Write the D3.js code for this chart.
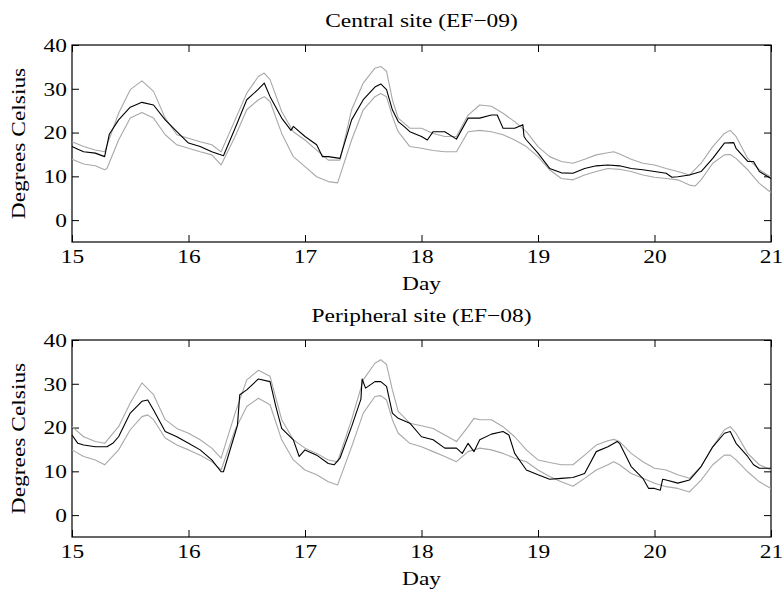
<!DOCTYPE html>
<html><head><meta charset="utf-8">
<script src="https://cdn.jsdelivr.net/npm/d3@7"></script>
<style>body{margin:0;background:#fff}svg{display:block}</style>
</head><body><div id="chart"></div>
<script>
// ---- data (day, °C) ----
const titles = ["Central site (EF\u221209)", "Peripheral site (EF\u221208)"];
const xTicks = [15, 16, 17, 18, 19, 20, 21];
const yTicks = [0, 10, 20, 30, 40];

const centralMean = [[15.0,16.8],[15.05,16.2],[15.1,15.6],[15.2,15.3],[15.28,14.5],[15.32,19.6],[15.4,22.9],[15.5,25.8],[15.6,26.9],[15.7,26.3],[15.8,22.9],[15.9,20.2],[16.0,17.6],[16.1,16.8],[16.2,15.6],[16.3,14.7],[16.4,21.0],[16.5,27.5],[16.6,29.9],[16.65,31.3],[16.7,28.2],[16.8,23.3],[16.88,20.5],[16.9,21.4],[17.0,19.1],[17.1,17.2],[17.15,14.5],[17.2,14.5],[17.3,14.1],[17.4,22.9],[17.5,27.5],[17.6,30.4],[17.65,31.1],[17.7,29.8],[17.75,25.2],[17.8,22.5],[17.85,21.4],[17.9,20.2],[18.0,19.1],[18.05,18.3],[18.1,20.2],[18.2,20.2],[18.3,18.5],[18.4,23.3],[18.5,23.3],[18.6,24.0],[18.65,24.0],[18.7,21.0],[18.8,21.0],[18.87,21.8],[18.88,19.1],[18.9,18.3],[19.0,15.3],[19.1,11.8],[19.2,10.8],[19.3,10.7],[19.4,11.8],[19.5,12.4],[19.6,12.6],[19.7,12.4],[19.8,11.8],[19.9,11.5],[20.0,11.1],[20.1,10.7],[20.15,9.8],[20.2,9.9],[20.3,10.3],[20.4,11.1],[20.5,14.1],[20.6,17.6],[20.68,17.7],[20.7,16.4],[20.8,13.4],[20.85,13.4],[20.9,11.1],[21.0,9.5]];
const centralMax = [[15.0,17.9],[15.1,16.8],[15.2,16.0],[15.28,15.6],[15.4,24.4],[15.5,29.8],[15.6,31.8],[15.7,29.4],[15.8,23.3],[15.9,19.5],[16.0,18.7],[16.1,17.9],[16.2,17.2],[16.28,15.6],[16.4,22.9],[16.5,29.0],[16.6,32.8],[16.65,33.6],[16.7,32.1],[16.8,24.8],[16.9,20.2],[17.0,18.3],[17.1,16.0],[17.2,13.7],[17.3,13.7],[17.4,25.2],[17.5,31.3],[17.6,34.7],[17.65,35.1],[17.7,34.0],[17.75,27.5],[17.8,23.3],[17.9,21.0],[18.0,21.0],[18.1,19.8],[18.2,19.1],[18.3,19.1],[18.4,24.0],[18.5,26.3],[18.6,26.0],[18.7,24.4],[18.8,22.5],[18.9,20.2],[19.0,16.8],[19.1,14.5],[19.2,13.4],[19.3,13.0],[19.4,13.9],[19.5,14.9],[19.6,15.4],[19.65,15.6],[19.7,15.1],[19.8,13.9],[19.9,13.0],[20.0,12.6],[20.1,11.8],[20.2,11.1],[20.3,10.3],[20.4,13.0],[20.5,16.8],[20.6,19.8],[20.65,20.5],[20.7,19.1],[20.8,14.1],[20.9,11.5],[21.0,9.8]];
const centralMin = [[15.0,13.9],[15.1,12.8],[15.2,12.4],[15.28,11.5],[15.3,11.8],[15.4,18.3],[15.5,23.3],[15.6,24.6],[15.7,23.3],[15.8,19.5],[15.9,17.2],[16.0,16.4],[16.1,15.6],[16.2,14.9],[16.28,12.6],[16.4,19.1],[16.5,25.2],[16.6,27.5],[16.65,28.2],[16.7,27.1],[16.8,19.8],[16.9,14.5],[17.0,12.2],[17.1,9.9],[17.2,8.8],[17.28,8.5],[17.4,18.3],[17.5,25.2],[17.6,28.2],[17.65,28.9],[17.7,28.2],[17.75,23.7],[17.8,20.2],[17.9,16.8],[18.0,16.4],[18.1,15.9],[18.2,15.6],[18.3,15.6],[18.4,20.2],[18.5,20.5],[18.6,20.2],[18.7,19.5],[18.8,18.3],[18.9,16.8],[19.0,14.5],[19.1,11.5],[19.2,9.5],[19.3,9.2],[19.4,10.3],[19.5,11.1],[19.6,11.8],[19.7,11.6],[19.8,11.1],[19.9,10.3],[20.0,9.8],[20.1,9.5],[20.2,9.2],[20.3,8.0],[20.35,7.8],[20.4,9.2],[20.5,13.0],[20.6,14.9],[20.65,15.0],[20.7,14.1],[20.8,11.5],[20.9,8.4],[21.0,6.3]];

const periphMean = [[15.0,18.3],[15.05,16.4],[15.1,16.0],[15.2,15.6],[15.3,15.6],[15.35,16.4],[15.4,17.9],[15.5,23.3],[15.6,26.0],[15.65,26.3],[15.7,24.0],[15.8,19.1],[15.9,17.9],[16.0,16.4],[16.1,14.9],[16.2,12.6],[16.28,9.9],[16.3,9.9],[16.4,18.7],[16.42,20.5],[16.44,27.5],[16.5,28.6],[16.6,31.1],[16.7,30.5],[16.75,24.8],[16.8,19.8],[16.9,17.2],[16.95,13.4],[17.0,14.9],[17.1,13.7],[17.2,11.8],[17.25,11.5],[17.3,13.0],[17.4,20.2],[17.48,26.5],[17.49,31.1],[17.52,29.0],[17.6,30.5],[17.65,30.5],[17.7,29.4],[17.75,23.3],[17.8,22.1],[17.9,21.0],[18.0,17.9],[18.1,17.2],[18.2,15.3],[18.3,15.3],[18.35,14.1],[18.4,16.4],[18.45,14.5],[18.5,17.2],[18.6,18.5],[18.7,19.1],[18.75,18.3],[18.8,14.1],[18.9,10.3],[19.0,9.2],[19.1,8.2],[19.2,8.4],[19.3,8.6],[19.4,9.5],[19.5,14.5],[19.6,15.6],[19.68,16.8],[19.7,16.4],[19.8,11.1],[19.9,8.4],[19.95,6.1],[20.0,6.1],[20.05,5.7],[20.07,8.2],[20.1,8.0],[20.2,7.3],[20.3,8.0],[20.4,11.1],[20.5,15.6],[20.6,18.7],[20.65,19.1],[20.7,16.4],[20.8,13.4],[20.85,11.5],[20.9,10.7],[21.0,10.7]];
const periphMax = [[15.0,20.2],[15.1,17.9],[15.2,16.8],[15.28,16.4],[15.4,20.2],[15.5,25.6],[15.6,30.2],[15.7,27.5],[15.8,21.8],[15.9,19.8],[16.0,18.7],[16.1,17.2],[16.2,15.3],[16.28,13.0],[16.4,23.3],[16.5,30.9],[16.6,33.1],[16.7,31.7],[16.8,21.8],[16.9,17.2],[17.0,15.3],[17.1,14.1],[17.2,12.6],[17.28,12.2],[17.4,21.8],[17.5,30.9],[17.6,34.7],[17.65,35.5],[17.7,34.4],[17.75,28.6],[17.8,23.7],[17.9,21.0],[18.0,20.4],[18.1,19.8],[18.2,18.3],[18.3,16.8],[18.4,20.2],[18.45,22.1],[18.5,21.8],[18.6,21.8],[18.7,20.2],[18.8,17.9],[18.9,14.9],[19.0,12.6],[19.1,12.0],[19.2,11.5],[19.3,11.5],[19.4,13.7],[19.5,16.0],[19.6,17.0],[19.65,17.3],[19.7,16.8],[19.8,14.1],[19.9,12.2],[20.0,10.7],[20.1,10.3],[20.2,9.2],[20.3,8.4],[20.4,11.1],[20.5,15.6],[20.6,19.5],[20.65,20.2],[20.7,18.7],[20.8,14.1],[20.9,11.5],[21.0,10.3]];
const periphMin = [[15.0,14.9],[15.1,13.4],[15.2,12.6],[15.28,11.5],[15.4,14.9],[15.5,19.5],[15.6,22.5],[15.65,22.9],[15.7,21.8],[15.8,17.6],[15.9,16.0],[16.0,14.9],[16.1,13.7],[16.2,12.2],[16.28,10.3],[16.4,19.5],[16.5,24.8],[16.6,26.7],[16.7,25.2],[16.8,17.2],[16.9,12.6],[17.0,10.3],[17.1,9.2],[17.2,7.6],[17.28,6.9],[17.4,15.6],[17.5,23.3],[17.6,27.1],[17.65,27.3],[17.7,26.3],[17.75,21.8],[17.8,18.7],[17.9,16.4],[18.0,15.6],[18.1,14.5],[18.2,13.4],[18.3,12.2],[18.4,14.5],[18.5,15.3],[18.6,14.9],[18.7,14.1],[18.8,13.0],[18.9,12.2],[19.0,10.3],[19.1,8.8],[19.2,7.6],[19.3,6.6],[19.4,8.4],[19.5,10.3],[19.6,11.5],[19.65,12.2],[19.7,11.5],[19.8,9.5],[19.9,8.4],[20.0,7.3],[20.1,6.5],[20.2,6.1],[20.3,5.3],[20.4,8.0],[20.5,11.5],[20.6,13.7],[20.65,13.7],[20.7,12.6],[20.8,9.9],[20.9,7.6],[21.0,6.1]];

const panels = [
  {title: titles[0], series: [centralMax, centralMin, centralMean]},
  {title: titles[1], series: [periphMax, periphMin, periphMean]}
];

// ---- drawing ----
const W = 784, H = 596;
const L = 72, R = 771;
const tops = [45, 340], plotH = 197;
const FS = 19.5, STRETCH = 1.2;
const svg = d3.select("#chart").append("svg").attr("width", W).attr("height", H);
const x = d3.scaleLinear().domain([15, 21]).range([L, R]);

panels.forEach((p, i) => {
  const top = tops[i], bot = top + plotH;
  const y = d3.scaleLinear().domain([-5, 40]).range([bot, top]);
  const g = svg.append("g");
  const tl = 7;
  const styleAxis = a => {
    a.select(".domain").remove();
    a.selectAll("line").attr("stroke", "#000").attr("stroke-width", 1);
    a.selectAll("text").attr("font-size", FS).style("font-family", '"Liberation Serif"').attr("fill", "#000");
  };
  g.append("g").attr("transform", `translate(0,${bot})`)
    .call(d3.axisBottom(x).tickValues(xTicks).tickFormat(d3.format("d")).tickSizeInner(-tl).tickPadding(7))
    .call(styleAxis);
  g.append("g").attr("transform", `translate(0,${top})`)
    .call(d3.axisTop(x).tickValues(xTicks).tickFormat("").tickSizeInner(-tl))
    .call(styleAxis);
  g.append("g").attr("transform", `translate(${L},0)`)
    .call(d3.axisLeft(y).tickValues(yTicks).tickFormat(d3.format("d")).tickSizeInner(-tl).tickPadding(5))
    .call(styleAxis);
  g.append("g").attr("transform", `translate(${R},0)`)
    .call(d3.axisRight(y).tickValues(yTicks).tickFormat("").tickSizeInner(-tl))
    .call(styleAxis);
  g.append("rect").attr("x", L).attr("y", top).attr("width", R - L).attr("height", plotH)
    .attr("fill", "none").attr("stroke", "#000").attr("stroke-width", 1.2);

  const line = d3.line().x(d => x(d[0])).y(d => y(d[1]));
  const colors = ["#a8a8a8", "#a8a8a8", "#000"];
  p.series.forEach((s, k) => {
    g.append("path").datum(s).attr("d", line).attr("fill", "none")
      .attr("stroke", colors[k]).attr("stroke-width", 1.1).attr("stroke-linejoin", "round");
  });

  g.append("text").attr("x", (L + R) / 2).attr("y", top - 18).attr("text-anchor", "middle")
    .attr("font-size", FS).style("font-family", '"Liberation Serif"').text(p.title);
  g.append("text").attr("x", (L + R) / 2).attr("y", bot + 48).attr("text-anchor", "middle")
    .attr("font-size", FS).style("font-family", '"Liberation Serif"').text("Day");
  g.append("text").attr("transform", `translate(25,${(top + bot) / 2}) rotate(-90)`)
    .attr("text-anchor", "middle").attr("font-size", FS).style("font-family", '"Liberation Serif"').text("Degrees Celsius");
});

// widen glyphs horizontally to match the reference's wide serif rendering
svg.selectAll("text").each(function () {
  const t = d3.select(this);
  if (!t.text()) return;
  const len = this.getComputedTextLength();
  t.attr("textLength", len * STRETCH).attr("lengthAdjust", "spacingAndGlyphs");
});
</script></body></html>
